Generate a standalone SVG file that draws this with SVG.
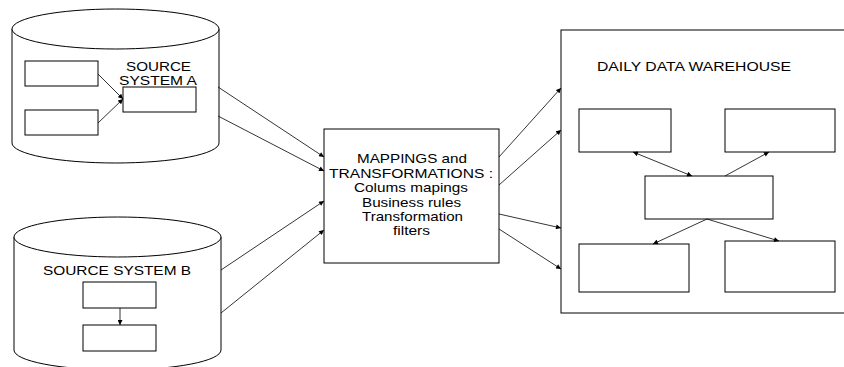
<svg xmlns="http://www.w3.org/2000/svg" width="844" height="367" viewBox="0 0 844 367">
<style>
.s{fill:#fff;stroke:#000;stroke-width:1}
.t{font-family:"Liberation Sans",Arial,sans-serif;font-size:13px;fill:#000}
.c line{stroke:#000;stroke-width:0.8;marker-end:url(#ah)}
</style>
<defs>
<marker id="ah" viewBox="0 0 10 10" refX="10" refY="5" markerWidth="6" markerHeight="5" markerUnits="userSpaceOnUse" orient="auto-start-reverse">
<path d="M0,0 L10,5 L0,10 z" fill="#000"/>
</marker>
</defs>
<rect width="844" height="367" fill="#fff"/>
<g id="sourceA">
<path class="s" d="M12,29 L12,143 A103.5,20 0 0 0 219,143 L219,29"/>
<ellipse class="s" cx="115.5" cy="29" rx="103.5" ry="20"/>
<rect class="s" x="25" y="61" width="73" height="25"/>
<rect class="s" x="25" y="110" width="73" height="25"/>
<text class="t" x="126" y="71" textLength="65" lengthAdjust="spacingAndGlyphs">SOURCE</text>
<text class="t" x="119" y="85" textLength="78" lengthAdjust="spacingAndGlyphs">SYSTEM A</text>
<rect class="s" x="123" y="87" width="73" height="25"/>
</g>
<g id="sourceB">
<path class="s" d="M14,237 L14,350 A103.5,20 0 0 0 221,350 L221,237"/>
<ellipse class="s" cx="117.5" cy="237" rx="103.5" ry="20"/>
<text class="t" x="43" y="275" textLength="148" lengthAdjust="spacingAndGlyphs">SOURCE SYSTEM B</text>
<rect class="s" x="83" y="282" width="73" height="26"/>
<rect class="s" x="83" y="325" width="73" height="26"/>
</g>
<g id="mapping">
<rect class="s" x="324" y="129" width="175" height="134"/>
<text class="t" x="357" y="163" textLength="110" lengthAdjust="spacingAndGlyphs">MAPPINGS and</text>
<text class="t" x="329" y="178" textLength="164" lengthAdjust="spacingAndGlyphs">TRANSFORMATIONS :</text>
<text class="t" x="354" y="192" textLength="114" lengthAdjust="spacingAndGlyphs">Colums mapings</text>
<text class="t" x="362" y="207" textLength="99" lengthAdjust="spacingAndGlyphs">Business rules</text>
<text class="t" x="362" y="221" textLength="101" lengthAdjust="spacingAndGlyphs">Transformation</text>
<text class="t" x="393" y="235" textLength="37" lengthAdjust="spacingAndGlyphs">filters</text>
</g>
<g id="warehouse">
<rect class="s" x="561" y="30" width="300" height="283"/>
<text class="t" x="597" y="71" textLength="194" lengthAdjust="spacingAndGlyphs">DAILY DATA WAREHOUSE</text>
<rect class="s" x="579" y="109" width="92" height="43"/>
<rect class="s" x="725" y="109" width="110" height="43"/>
<rect class="s" x="645" y="176" width="128" height="43"/>
<rect class="s" x="579" y="244" width="110" height="48"/>
<rect class="s" x="725" y="241" width="110" height="51"/>
</g>
<g id="connectors" class="c">
<line x1="98" y1="74" x2="123" y2="99"/>
<line x1="98" y1="123" x2="123" y2="99"/>
<line x1="120" y1="308" x2="120" y2="325"/>
<line x1="218" y1="87" x2="324" y2="157"/>
<line x1="218" y1="116" x2="324" y2="171"/>
<line x1="221" y1="270" x2="324" y2="201"/>
<line x1="221" y1="313" x2="324" y2="230"/>
<line x1="499" y1="157" x2="561" y2="88"/>
<line x1="499" y1="185" x2="561" y2="130"/>
<line x1="499" y1="214" x2="561" y2="228"/>
<line x1="499" y1="229" x2="561" y2="269"/>
<line x1="633" y1="152" x2="692" y2="176" style="marker-start:url(#ah)"/>
<line x1="725" y1="176" x2="769" y2="152"/>
<line x1="707" y1="219" x2="653" y2="244"/>
<line x1="707" y1="219" x2="779" y2="241"/>
</g>
</svg>
